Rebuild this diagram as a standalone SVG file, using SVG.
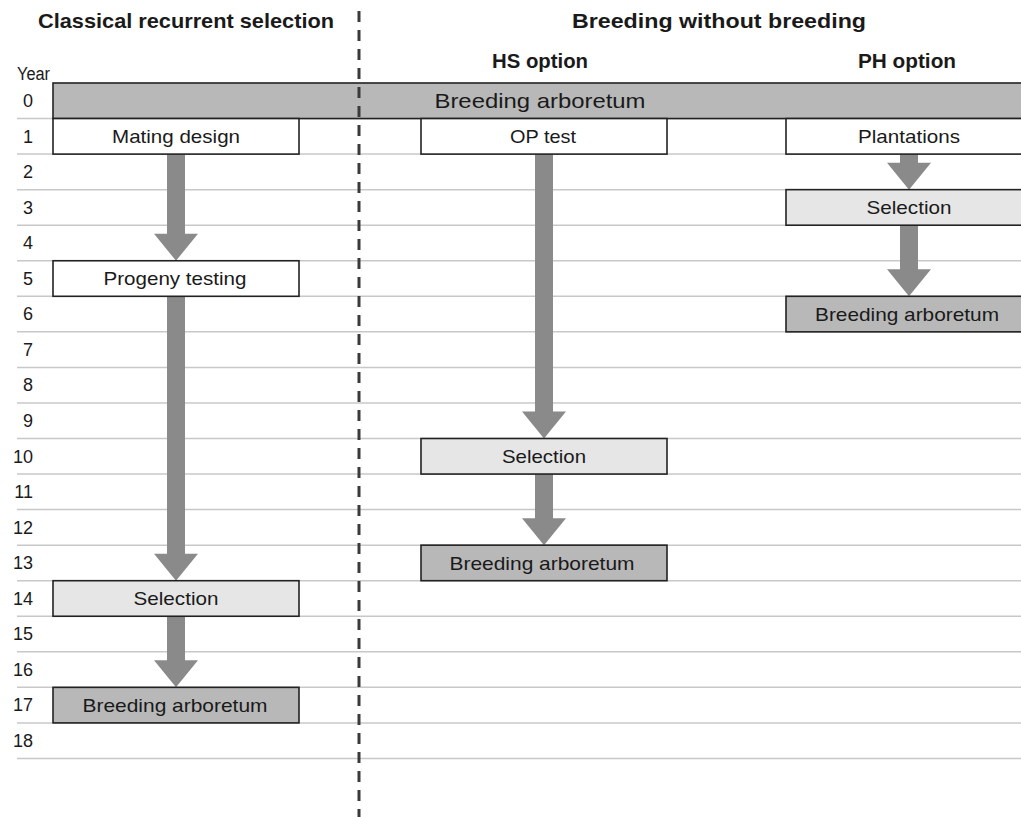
<svg xmlns="http://www.w3.org/2000/svg" width="1021" height="817" viewBox="0 0 1021 817">
<style>
text{font-family:"Liberation Sans",Arial,sans-serif;fill:#1a1a1a}
.h{font-weight:bold;font-size:21px;text-anchor:middle}
.yr{font-size:18px;text-anchor:end}
.lbl{font-size:19px;text-anchor:middle}
.grid line{stroke:#c8c8c8;stroke-width:1.5}
.box{stroke:#222;stroke-width:1.6}
.w{fill:#fff}.l{fill:#e6e6e6}.d{fill:#b8b8b8}
.arr{fill:#8a8a8a}
</style>
<rect width="1021" height="817" fill="#fff"/>
<g id="headings">
<text class="h" x="186" y="28" textLength="296" lengthAdjust="spacingAndGlyphs">Classical recurrent selection</text>
<text class="h" x="719" y="28" textLength="294" lengthAdjust="spacingAndGlyphs">Breeding without breeding</text>
<text class="h" x="540" y="68" style="font-size:20px" textLength="96" lengthAdjust="spacingAndGlyphs">HS option</text>
<text class="h" x="907" y="68" style="font-size:20px" textLength="98" lengthAdjust="spacingAndGlyphs">PH option</text>
</g>
<g class="grid">
<line x1="17" y1="118.55" x2="1021" y2="118.55"/>
<line x1="17" y1="154.1" x2="1021" y2="154.1"/>
<line x1="17" y1="189.65" x2="1021" y2="189.65"/>
<line x1="17" y1="225.2" x2="1021" y2="225.2"/>
<line x1="17" y1="260.75" x2="1021" y2="260.75"/>
<line x1="17" y1="296.3" x2="1021" y2="296.3"/>
<line x1="17" y1="331.85" x2="1021" y2="331.85"/>
<line x1="17" y1="367.4" x2="1021" y2="367.4"/>
<line x1="17" y1="402.95" x2="1021" y2="402.95"/>
<line x1="17" y1="438.5" x2="1021" y2="438.5"/>
<line x1="17" y1="474.05" x2="1021" y2="474.05"/>
<line x1="17" y1="509.6" x2="1021" y2="509.6"/>
<line x1="17" y1="545.15" x2="1021" y2="545.15"/>
<line x1="17" y1="580.7" x2="1021" y2="580.7"/>
<line x1="17" y1="616.25" x2="1021" y2="616.25"/>
<line x1="17" y1="651.8" x2="1021" y2="651.8"/>
<line x1="17" y1="687.35" x2="1021" y2="687.35"/>
<line x1="17" y1="722.9" x2="1021" y2="722.9"/>
<line x1="17" y1="758.45" x2="1021" y2="758.45"/>
</g>
<g id="years">
<text x="17" y="80" style="font-size:18px" textLength="33" lengthAdjust="spacingAndGlyphs">Year</text>
<text class="yr" x="33" y="107">0</text>
<text class="yr" x="33" y="142.5">1</text>
<text class="yr" x="33" y="178.1">2</text>
<text class="yr" x="33" y="213.6">3</text>
<text class="yr" x="33" y="249.2">4</text>
<text class="yr" x="33" y="284.7">5</text>
<text class="yr" x="33" y="320.3">6</text>
<text class="yr" x="33" y="355.8">7</text>
<text class="yr" x="33" y="391.4">8</text>
<text class="yr" x="33" y="426.9">9</text>
<text class="yr" x="33" y="462.5">10</text>
<text class="yr" x="33" y="498">11</text>
<text class="yr" x="33" y="533.6">12</text>
<text class="yr" x="33" y="569.1">13</text>
<text class="yr" x="33" y="604.7">14</text>
<text class="yr" x="33" y="640.2">15</text>
<text class="yr" x="33" y="675.8">16</text>
<text class="yr" x="33" y="711.3">17</text>
<text class="yr" x="33" y="746.9">18</text>
</g>
<g id="connectors">
<path class="arr" d="M167,154.1H185V233.75H198L176,260.75L154,233.75H167Z"/>
<path class="arr" d="M167,296.3H185V553.7H198L176,580.7L154,553.7H167Z"/>
<path class="arr" d="M167,616.25H185V660.35H198L176,687.35L154,660.35H167Z"/>
<path class="arr" d="M535,154.1H553V411.5H566L544,438.5L522,411.5H535Z"/>
<path class="arr" d="M535,474.05H553V518.15H566L544,545.15L522,518.15H535Z"/>
<path class="arr" d="M900,154.1H918V162.65H931L909,189.65L887,162.65H900Z"/>
<path class="arr" d="M900,225.2H918V269.3H931L909,296.3L887,269.3H900Z"/>
</g>
<g id="n-arboretum0">
<rect class="box d" x="53" y="83" width="980" height="35.55"/>
<text class="lbl" x="540" y="108" style="font-size:21px" textLength="211" lengthAdjust="spacingAndGlyphs">Breeding arboretum</text>
</g>
<g id="n-mating">
<rect class="box w" x="53" y="118.55" width="246" height="35.55"/>
<text class="lbl" x="176" y="143" textLength="128" lengthAdjust="spacingAndGlyphs">Mating design</text>
</g>
<g id="n-progeny">
<rect class="box w" x="53" y="260.75" width="246" height="35.55"/>
<text class="lbl" x="175" y="285.2" textLength="143" lengthAdjust="spacingAndGlyphs">Progeny testing</text>
</g>
<g id="n-sel-crs">
<rect class="box l" x="53" y="580.7" width="246" height="35.55"/>
<text class="lbl" x="176" y="605.2" textLength="85" lengthAdjust="spacingAndGlyphs">Selection</text>
</g>
<g id="n-arb-crs">
<rect class="box d" x="53" y="687.35" width="246" height="35.55"/>
<text class="lbl" x="175" y="711.8" textLength="185" lengthAdjust="spacingAndGlyphs">Breeding arboretum</text>
</g>
<g id="n-optest">
<rect class="box w" x="421" y="118.55" width="246" height="35.55"/>
<text class="lbl" x="543" y="143" textLength="66" lengthAdjust="spacingAndGlyphs">OP test</text>
</g>
<g id="n-sel-hs">
<rect class="box l" x="421" y="438.5" width="246" height="35.55"/>
<text class="lbl" x="544" y="463" textLength="84" lengthAdjust="spacingAndGlyphs">Selection</text>
</g>
<g id="n-arb-hs">
<rect class="box d" x="421" y="545.15" width="246" height="35.55"/>
<text class="lbl" x="542" y="569.6" textLength="185" lengthAdjust="spacingAndGlyphs">Breeding arboretum</text>
</g>
<g id="n-plantations">
<rect class="box w" x="786" y="118.55" width="246" height="35.55"/>
<text class="lbl" x="909" y="143" textLength="102" lengthAdjust="spacingAndGlyphs">Plantations</text>
</g>
<g id="n-sel-ph">
<rect class="box l" x="786" y="189.65" width="246" height="35.55"/>
<text class="lbl" x="909" y="214.1" textLength="85" lengthAdjust="spacingAndGlyphs">Selection</text>
</g>
<g id="n-arb-ph">
<rect class="box d" x="786" y="296.3" width="246" height="35.55"/>
<text class="lbl" x="907" y="320.8" textLength="184" lengthAdjust="spacingAndGlyphs">Breeding arboretum</text>
</g>
<line id="divider" x1="359" y1="11" x2="359" y2="817" stroke="#3a3a3a" stroke-width="3" stroke-dasharray="11 8"/>
</svg>
